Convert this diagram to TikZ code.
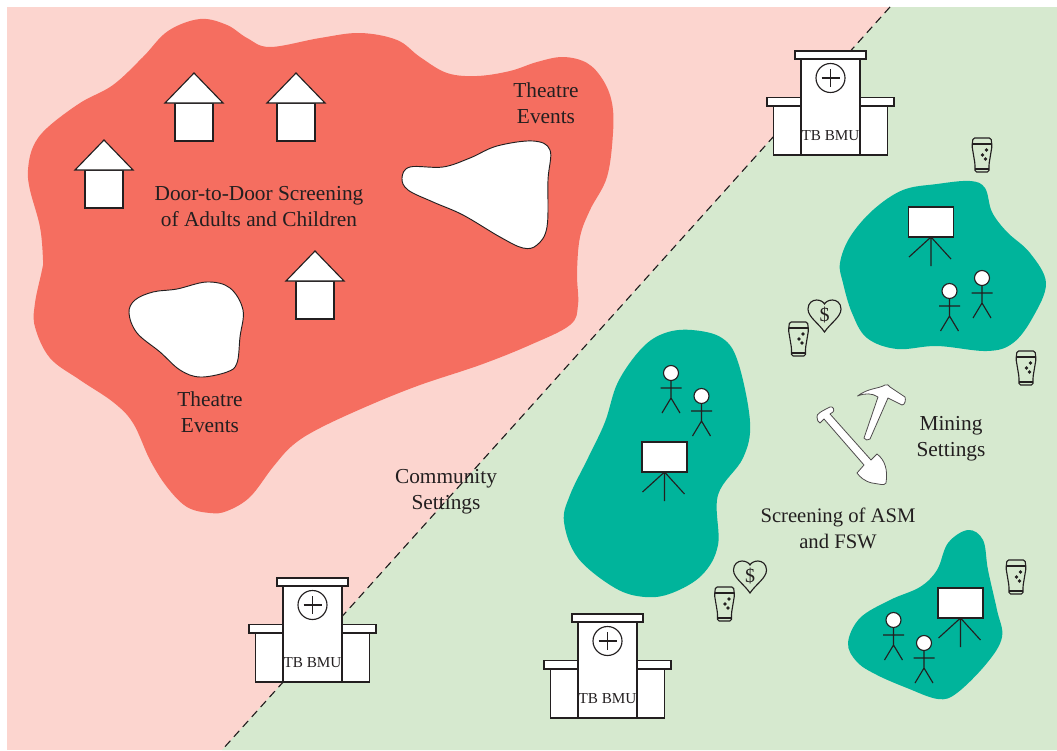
\documentclass[tikz,border=0pt]{standalone}
\usepackage{fontspec}
\setmainfont{Liberation Serif}
\definecolor{pinkbg}{HTML}{FCD5CF}
\definecolor{greenbg}{HTML}{D6E9CF}
\definecolor{redblob}{HTML}{F56E60}
\definecolor{tealblob}{HTML}{00B49B}
\definecolor{inkc}{HTML}{231F20}
\tikzset{
  ln/.style={draw=inkc,line width=0.85pt,line join=miter},
  wht/.style={ln,fill=white},
  lbl/.style={text=inkc,font=\fontsize{16pt}{19.5pt}\selectfont,align=center,inner sep=0pt},
  blob/.style={smooth cycle,tension=0.6},
  pics/house/.style={code={
    \draw[wht] (-19,0) rectangle (19,-38);
    \draw[wht] (-29,-38) -- (0,-68) -- (29,-38) -- cycle;
  }},
  pics/bmu/.style={code={
    \draw[wht] (-57,0) rectangle (57,-49);
    \draw[wht] (-63.5,-49) rectangle (63.5,-57.5);
    \draw[wht] (-29.5,0) rectangle (29.5,-96);
    \draw[wht] (-35.5,-96) rectangle (35.5,-104);
    \draw[ln] (0,-77) circle (14.5);
    \draw[ln] (-9,-77) -- (9,-77) (0,-86) -- (0,-68);
    \node[text=inkc,font=\fontsize{11.4pt}{14pt}\selectfont,inner sep=0pt] at (0,-19) {TB BMU};
  }},
  pics/glass/.style={code={
    \draw[ln,rounded corners=1.2] (-9,-34) -- (9,-34) -- (10,-26) -- (7,-8) -- (7,0) -- (-7,0) -- (-7,-8) -- (-10,-26) -- cycle;
    \draw[ln] (-9.7,-28) -- (9.7,-28) (-7,-3) -- (7,-3);
    \fill[inkc] (3.5,-13) circle (1.8) (0.5,-17) circle (1.8) (4.5,-22) circle (1.8);
  }},
  pics/heart/.style={code={
    \draw[ln] (0,32) .. controls (-6,23) and (-16.5,17) .. (-16.5,9) .. controls (-16.5,3) and (-12,0) .. (-8,0) .. controls (-4,0) and (-1,2) .. (0,4) .. controls (1,2) and (4,0) .. (8,0) .. controls (12,0) and (16.5,3) .. (16.5,9) .. controls (16.5,17) and (6,23) .. (0,32) -- cycle;
    \node[text=inkc,font=\fontsize{15pt}{16pt}\selectfont,inner sep=0pt] at (0,15) {\$};
  }},
  pics/person/.style={code={
    \draw[ln] (0,7.5) -- (0,25) (-10.5,15) -- (10.5,15) (-9,40) -- (0,25) -- (9,40);
    \draw[wht] (0,0) circle (7.5);
  }},
  pics/easel/.style={code={
    \draw[ln] (0,30) -- (-22,50) (0,30) -- (20,52) (0,30) -- (0,59);
    \draw[wht] (-22.5,0) rectangle (22.5,30);
  }}
}
\begin{document}
\begin{tikzpicture}[x=0.75pt,y=-0.75pt]
\useasboundingbox (0,0) rectangle (1057,750);
\fill[pinkbg] (7,7) rectangle (1057,750);
\coordinate (lineA) at (890,7);
\coordinate (lineB) at (222,750);
\fill[greenbg] (lineA) -- (1057,7) -- (1057,750) -- (lineB) -- cycle;
\draw[draw=inkc,line width=0.85pt,dash pattern=on 6pt off 4pt] (lineA) -- (lineB);

% red region
\fill[redblob] plot[blob] coordinates {(28,170) (33,147) (47,128) (80,103) (113,85) (143,57) (168,31) (200,19) (227,25) (247,38) (270,47) (320,38) (360,33) (397,40) (420,57) (447,73) (477,76) (510,71) (537,62) (563,57) (587,63) (603,80) (612,103) (613,133) (607,177) (590,210) (580,237) (577,273) (578,305) (570,325) (530,345) (480,365) (420,385) (370,405) (320,428) (293,445) (273,467) (250,497) (227,511) (210,513) (187,507) (167,487) (150,460) (133,423) (113,402) (80,380) (50,358) (35,327) (35,303) (42,270) (43,260) (40,227) (30,190)};
\draw[wht,line width=0.7pt] plot[blob] coordinates {(402,178) (410,167) (443,167) (470,158) (497,146) (533,141) (550,150) (548,180) (547,227) (537,245) (523,248) (500,237) (463,215) (433,202) (408,190)};
\draw[wht,line width=0.7pt] plot[blob] coordinates {(129,313) (135,300) (153,292) (177,289) (207,282) (230,288) (243,310) (240,337) (237,363) (227,372) (200,377) (180,370) (160,352) (137,333)};

% teal regions
\fill[tealblob] plot[blob] coordinates {(840,263) (850,237) (873,210) (903,190) (937,184) (970,181) (985,188) (992,212) (1007,232) (1030,253) (1046,283) (1033,317) (1013,343) (987,351) (937,346) (897,349) (867,338) (852,313) (843,283)};
\fill[tealblob] plot[blob] coordinates {(564,522) (570,495) (588,458) (605,422) (618,382) (642,348) (665,333) (692,330) (722,338) (738,362) (750,422) (743,458) (718,495) (718,545) (702,575) (672,593) (645,597) (615,588) (578,558)};
\fill[tealblob] plot[blob] coordinates {(848,643) (860,618) (890,600) (920,587) (937,570) (948,543) (968,530) (983,540) (988,570) (997,610) (1002,637) (987,663) (957,693) (938,699) (907,688) (877,675) (857,662)};

% houses
\pic at (194,141) {house};
\pic at (296,141) {house};
\pic at (104,208) {house};
\pic at (315,319) {house};

% TB BMU
\pic at (830.5,155) {bmu};
\pic at (312.5,682) {bmu};
\pic at (607.5,718) {bmu};

% glasses
\pic at (982,172) {glass};
\pic at (798.5,356) {glass};
\pic at (1026,385) {glass};
\pic at (724.5,621) {glass};
\pic at (1016,594) {glass};

% hearts
\pic at (824.5,300) {heart};
\pic at (750,561) {heart};

% people
\pic at (671,373) {person};
\pic at (701.5,396) {person};
\pic at (949.5,291) {person};
\pic at (982,278) {person};
\pic at (893.5,620) {person};
\pic at (924,643) {person};

% easels
\pic at (664.5,442) {easel};
\pic at (931,207) {easel};
\pic at (960.5,588) {easel};

% pick
\draw[draw=inkc!80,line width=0.6pt,fill=white,line join=round] (857.5,396) .. controls (868,388) and (878,389) .. (885,385) .. controls (887,384) and (889,385) .. (890,387) -- (905,397) .. controls (906,400) and (905,405) .. (902,405) -- (888,398) -- (870,439) .. controls (868,441) and (865,440) .. (864,438) -- (878,397) .. controls (872,393) and (865,393) .. (857.5,396) -- cycle;
% shovel
\draw[draw=inkc!80,line width=0.6pt,fill=white,line join=round] (817,417) .. controls (816,414) and (822,411) .. (830,407) .. controls (833,406) and (835,410) .. (833,412) -- (830,414) -- (871,460) -- (877,454) .. controls (885,460) and (888,470) .. (886,483) .. controls (884,486) and (880,484) .. (872,483) .. controls (864,481) and (860,477) .. (857,473) -- (864,465) -- (824,419) -- (820,423) .. controls (818,422) and (817,420) .. (817,417) -- cycle;

% labels
\node[lbl] (t1) at (259,207) {Door-to-Door Screening\\of Adults and Children};
\node[lbl] (t2) at (546,103.5) {Theatre\\Events};
\node[lbl] (t3) at (210,412) {Theatre\\Events};
\node[lbl] (t4) at (446,492) {Community\\Settings};
\node[lbl] (t5) at (951,439) {Mining\\Settings};
\node[lbl,font=\fontsize{15.5pt}{19.5pt}\selectfont] (t6) at (838,528) {Screening of ASM\\and FSW};
\end{tikzpicture}
\end{document}
